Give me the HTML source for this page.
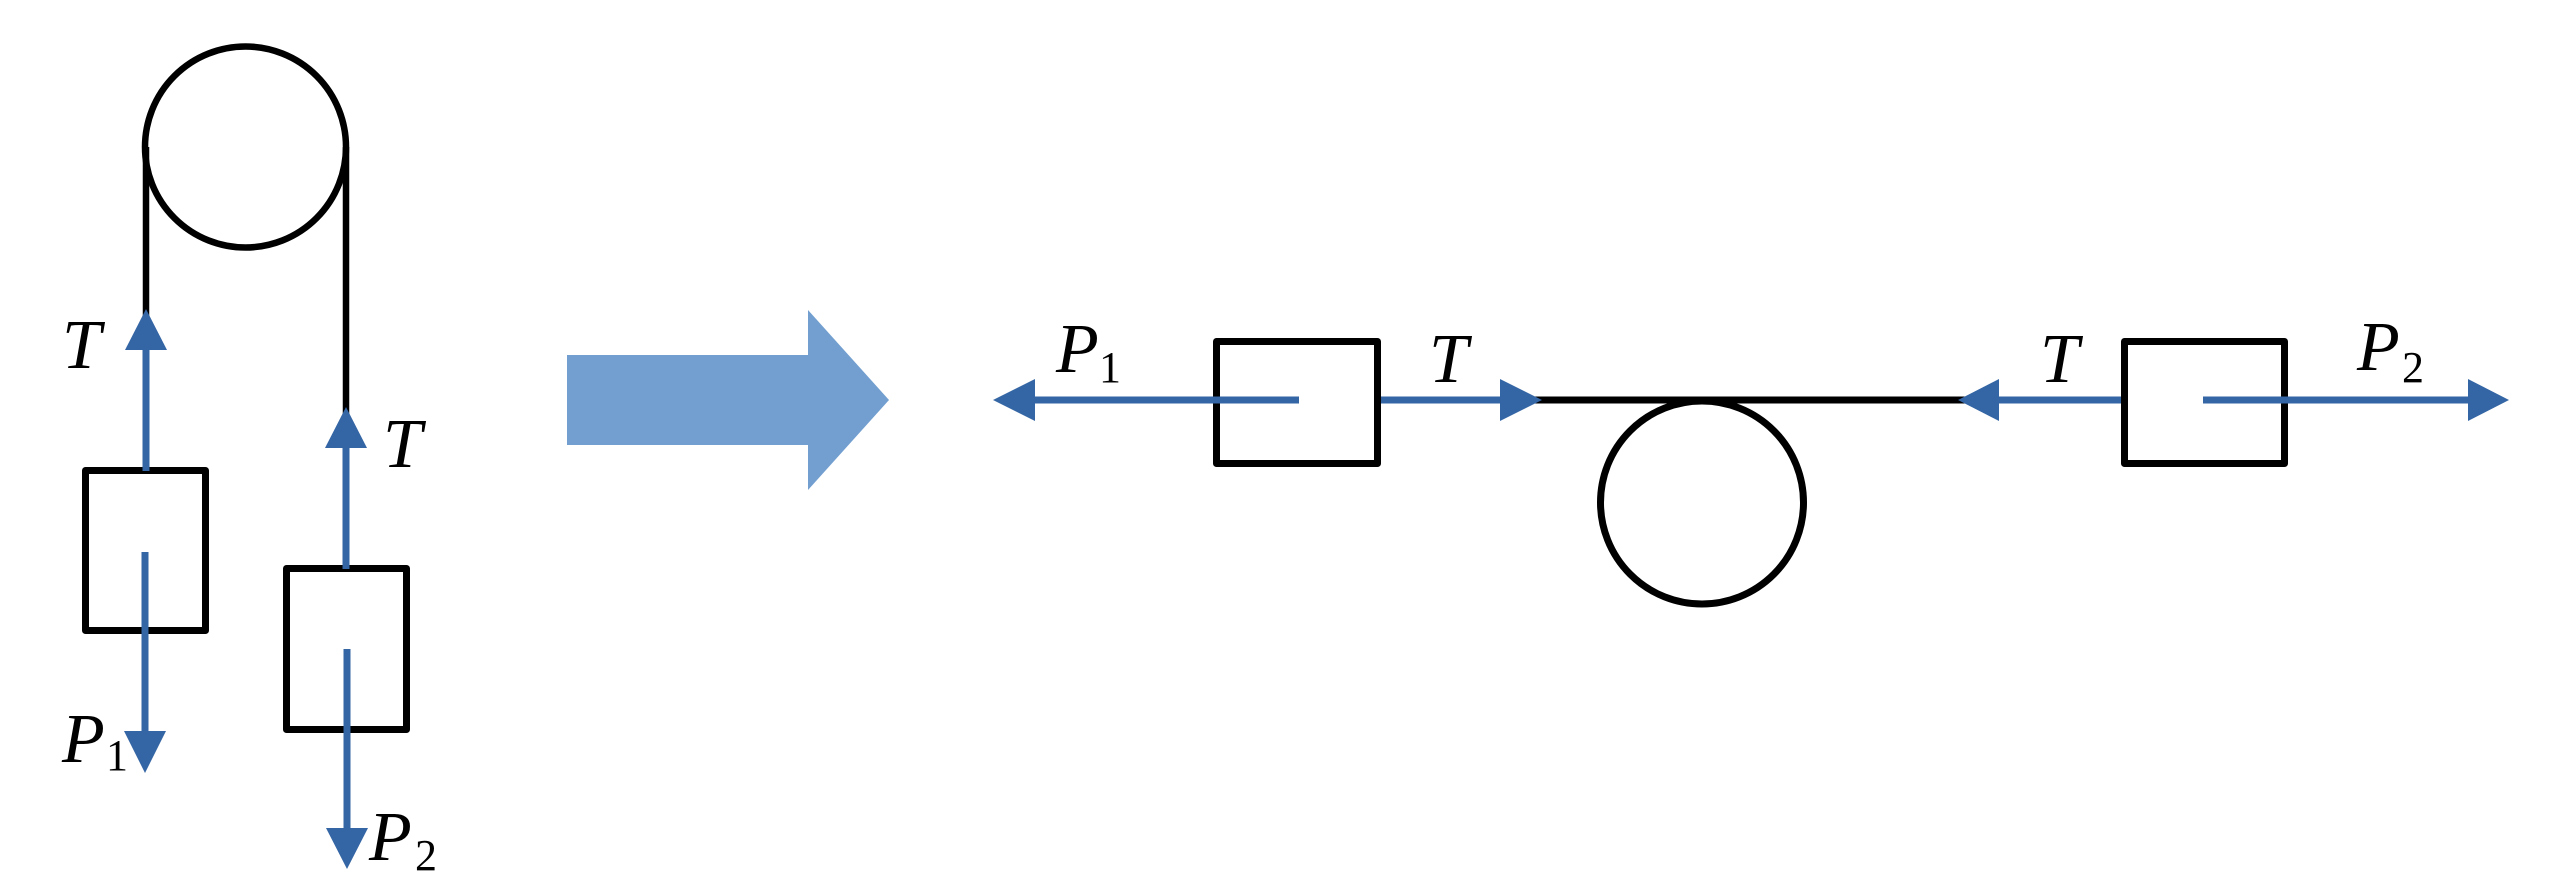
<!DOCTYPE html>
<html>
<head>
<meta charset="utf-8">
<style>
html,body{margin:0;padding:0;background:#fff;}
svg{display:block;}
text{font-family:"Liberation Serif",serif;font-style:italic;fill:#000;}
</style>
</head>
<body>
<svg width="2560" height="895" viewBox="0 0 2560 895" xmlns="http://www.w3.org/2000/svg">
  <!-- LEFT DIAGRAM -->
  <!-- pulley -->
  <circle cx="245.5" cy="147" r="100.5" fill="none" stroke="#000" stroke-width="6.5"/>
  <!-- ropes -->
  <line x1="146" y1="147" x2="146" y2="330" stroke="#000" stroke-width="6.5"/>
  <line x1="346" y1="147" x2="346" y2="430" stroke="#000" stroke-width="6.5"/>

  <!-- box 1 -->
  <rect x="85.5" y="470.5" width="120" height="160" fill="none" stroke="#000" stroke-width="7" stroke-linejoin="round"/>
  <!-- box 2 -->
  <rect x="286.5" y="568.5" width="120" height="161" fill="none" stroke="#000" stroke-width="7" stroke-linejoin="round"/>

  <!-- T arrow left (up) -->
  <line x1="146" y1="345" x2="146" y2="471" stroke="#3465a4" stroke-width="7"/>
  <polygon points="146,309 125,350 167,350" fill="#3465a4"/>
  <!-- T arrow right (up) -->
  <line x1="346" y1="443" x2="346" y2="569" stroke="#3465a4" stroke-width="7"/>
  <polygon points="346,407 325,448 367,448" fill="#3465a4"/>

  <!-- P1 arrow (down) -->
  <line x1="145" y1="552" x2="145" y2="736" stroke="#3465a4" stroke-width="7"/>
  <polygon points="145,773 124,731 166,731" fill="#3465a4"/>
  <!-- P2 arrow (down) -->
  <line x1="347" y1="649" x2="347" y2="833" stroke="#3465a4" stroke-width="7"/>
  <polygon points="347,869 326,828 368,828" fill="#3465a4"/>

  <!-- labels left -->
  <text x="62" y="368" font-size="70">T</text>
  <text x="383" y="467" font-size="70">T</text>
  <text x="62" y="762" font-size="70">P</text>
  <text x="106" y="770" font-size="44" style="font-style:normal">1</text>
  <text x="369" y="860" font-size="70">P</text>
  <text x="415" y="870" font-size="44" style="font-style:normal">2</text>

  <!-- BIG ARROW -->
  <polygon points="567,355 808,355 808,310 889,400 808,490 808,445 567,445" fill="#729fcf"/>

  <!-- RIGHT DIAGRAM -->
  <!-- rope -->
  <line x1="1500" y1="400" x2="1999" y2="400" stroke="#000" stroke-width="7"/>
  <!-- pulley -->
  <circle cx="1702" cy="502.5" r="101.5" fill="none" stroke="#000" stroke-width="7"/>

  <!-- box A -->
  <rect x="1216.5" y="341.5" width="161" height="122" fill="none" stroke="#000" stroke-width="7" stroke-linejoin="round"/>
  <!-- box B -->
  <rect x="2124.5" y="341.5" width="160" height="122" fill="none" stroke="#000" stroke-width="7" stroke-linejoin="round"/>

  <!-- P1 arrow (left) -->
  <line x1="1030" y1="400" x2="1299" y2="400" stroke="#3465a4" stroke-width="7"/>
  <polygon points="993,400 1035,379 1035,421" fill="#3465a4"/>
  <!-- T arrow (right) from box A -->
  <line x1="1381" y1="400" x2="1505" y2="400" stroke="#3465a4" stroke-width="7"/>
  <polygon points="1542,400 1500,379 1500,421" fill="#3465a4"/>
  <!-- T arrow (left) to box B -->
  <line x1="1994" y1="400" x2="2121" y2="400" stroke="#3465a4" stroke-width="7"/>
  <polygon points="1958,400 1999,379 1999,421" fill="#3465a4"/>
  <!-- P2 arrow (right) -->
  <line x1="2203" y1="400" x2="2473" y2="400" stroke="#3465a4" stroke-width="7"/>
  <polygon points="2509,400 2468,379 2468,421" fill="#3465a4"/>

  <!-- labels right -->
  <text x="1056" y="372" font-size="70">P</text>
  <text x="1099" y="382" font-size="44" style="font-style:normal">1</text>
  <text x="1429" y="382" font-size="70">T</text>
  <text x="2040" y="382" font-size="70">T</text>
  <text x="2357" y="370" font-size="70">P</text>
  <text x="2402" y="382" font-size="44" style="font-style:normal">2</text>
</svg>
</body>
</html>
